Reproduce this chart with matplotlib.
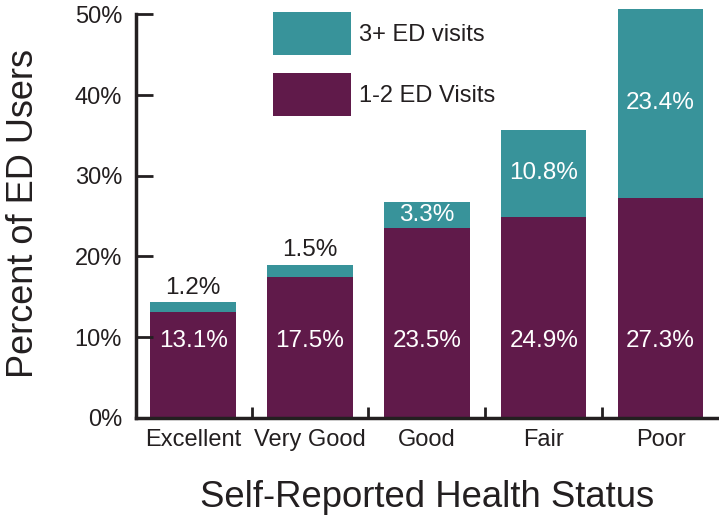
import matplotlib.pyplot as plt
import numpy as np

# ----- Matplotlib settings -----
plt.rcParams["font.family"] = ["Liberation Sans", "DejaVu Sans"]
plt.rcParams["font.size"] = 16

# ----- Data -----
categories = ["Excellent", "Very Good", "Good", "Fair", "Poor"]
visits_1_2 = [13.1, 17.5, 23.5, 24.9, 27.3]
visits_3_plus = [1.2, 1.5, 3.3, 10.8, 23.4]
y_ticks = [0, 10, 20, 30, 40, 50]

PURPLE = "#601A4A"
TEAL = "#38939A"
TEXT = "#231F20"

# ----- Plot -----
fig = plt.figure(figsize=(7.19, 5.21), dpi=100)
ax = fig.add_axes([0.189, 0.198, 0.811, 0.790])

x = np.arange(len(categories))
width = 0.73
ax.bar(x, visits_1_2, width, color=PURPLE, label="1-2 ED Visits")
ax.bar(x, visits_3_plus, width, bottom=visits_1_2, color=TEAL, label="3+ ED visits")

# value labels
for i in range(len(categories)):
    ax.text(x[i], 9.5, f"{visits_1_2[i]:.1f}%", ha="center", va="center",
            color="white", fontsize=17.5)
    top = visits_1_2[i] + visits_3_plus[i]
    if visits_3_plus[i] < 2:
        ax.text(x[i], top + 0.4, f"{visits_3_plus[i]:.1f}%", ha="center",
                va="bottom", color=TEXT, fontsize=17.5)
    else:
        ax.text(x[i], visits_1_2[i] + visits_3_plus[i] / 2,
                f"{visits_3_plus[i]:.1f}%", ha="center", va="center",
                color="white", fontsize=17.5)

# axes formatting
ax.set_xlim(-0.49, 4.5)
ax.set_ylim(0, 51)
ax.set_yticks(y_ticks)
ax.set_yticklabels([f"{v}%" for v in y_ticks], color=TEXT)
ax.set_xticks(x)
ax.set_xticklabels(categories, color=TEXT)
ax.set_xticks(x[:-1] + 0.5, minor=True)
ax.tick_params(axis="x", which="major", length=0, pad=8, labelsize=17)
ax.tick_params(axis="x", which="minor", direction="in", length=8, width=2, color=TEXT)
ax.tick_params(axis="y", direction="in", length=12, width=2, color=TEXT, pad=10,
               labelsize=17)

for side in ["top", "right"]:
    ax.spines[side].set_visible(False)
for side in ["left", "bottom"]:
    ax.spines[side].set_linewidth(2.5)
    ax.spines[side].set_color(TEXT)
ax.spines["left"].set_bounds(0, 50)

fig.text(0.033, 0.59, "Percent of ED Users", rotation=90, ha="center",
         va="center", fontsize=26, color=TEXT)
fig.text(0.594, 0.046, "Self-Reported Health Status", ha="center",
         va="center", fontsize=26.3, color=TEXT)

# legend
handles, labels = ax.get_legend_handles_labels()
leg = fig.legend(handles[::-1], labels[::-1], loc="upper left",
                 bbox_to_anchor=(0.3797, 0.977), frameon=False, fontsize=17,
                 handlelength=3.3, handleheight=2.4, handletextpad=0.35,
                 labelspacing=0.8, borderpad=0, borderaxespad=0)
for t in leg.get_texts():
    t.set_color(TEXT)

fig.savefig("out.png", dpi=100)
